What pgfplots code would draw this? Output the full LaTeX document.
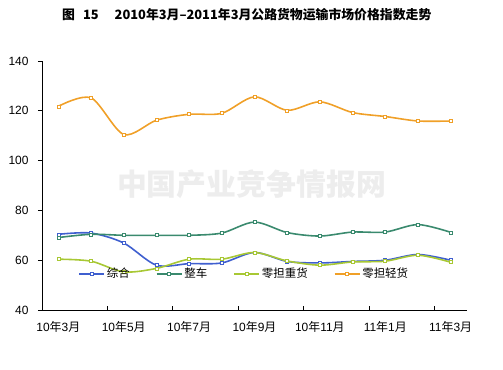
\documentclass[border=0pt]{standalone}
\usepackage{fontspec}
\setmainfont{Liberation Sans}
\newfontfamily\cjk{Noto Sans CJK SC}
\usepackage{pgfplots}
\pgfplotsset{compat=1.18}
\definecolor{cblue}{HTML}{3F5FCF}
\definecolor{cgreen}{HTML}{3A8A6E}
\definecolor{cyg}{HTML}{A8C834}
\definecolor{corange}{HTML}{F0A028}
\begin{document}
\begin{tikzpicture}
\path[use as bounding box] (0,0) rectangle (503bp,370bp);
\node[anchor=west,inner sep=0pt] at (62bp,355bp) {\cjk\bfseries\fontsize{12.9}{14}\selectfont 图\hspace{8bp}15\hspace{16bp}2010年3月–2011年3月公路货物运输市场价格指数走势};
\node[inner sep=0pt,text=black!7] at (251.5bp,186bp) {\cjk\bfseries\fontsize{30}{32}\selectfont 中国产业竞争情报网};
\begin{axis}[
  scale only axis,
  width=425bp, height=249bp,
  at={(42bp,60bp)}, anchor=south west,
  xmin=-0.5, xmax=12.5, ymin=40, ymax=140,
  axis x line*=bottom, axis y line*=left,
  axis line style={black, line width=0.8pt, -},
  ytick={40,60,80,100,120,140},
  xtick={1.5,3.5,5.5,7.5,9.5,11.5},
  xticklabels={},
  extra x ticks={0,2,4,6,8,10,12},
  extra x tick labels={10{\cjk 年}3{\cjk 月},10{\cjk 年}5{\cjk 月},10{\cjk 年}7{\cjk 月},10{\cjk 年}9{\cjk 月},10{\cjk 年}11{\cjk 月},11{\cjk 年}1{\cjk 月},11{\cjk 年}3{\cjk 月}},
  extra x tick style={major tick length=0pt, xticklabel style={yshift=-8bp}},
  xtick align=inside, ytick align=outside,
  major tick length=4bp,
  tick style={black, line width=0.8pt},
  /pgf/number format/assume math mode=true,
  ticklabel style={font=\fontsize{12}{14}\selectfont},
  yticklabel style={xshift=-6bp},
  every tick label/.append style={text=black},
  legend columns=4,
  legend style={draw=none, fill=none, at={(0.078,0.145)}, anchor=west,
    font=\cjk\fontsize{11.5}{13}\selectfont, column sep=0pt,
    /tikz/every even column/.append style={column sep=24bp}},
  legend image code/.code={\draw[mark repeat=2,mark phase=2] plot coordinates {(0bp,0bp) (12.5bp,0bp) (25bp,0bp)};},
  every axis plot/.append style={smooth, line width=1.6pt, mark=square*, mark size=1.5bp},
]
\addplot[cblue, mark options={draw=cblue, fill=white, line width=0.6pt, solid}] coordinates {(0,70.4) (1,70.9) (2,66.9) (3,58.0) (4,58.6) (5,58.9) (6,63.1) (7,59.5) (8,58.9) (9,59.5) (10,60.0) (11,62.3) (12,60.0)};
\addlegendentry{综合}
\addplot[cgreen, mark options={draw=cgreen, fill=white, line width=0.6pt, solid}] coordinates {(0,69.1) (1,70.4) (2,70.0) (3,70.0) (4,70.0) (5,70.9) (6,75.3) (7,71.1) (8,69.7) (9,71.3) (10,71.3) (11,74.3) (12,71.2)};
\addlegendentry{整车}
\addplot[cyg, mark options={draw=cyg, fill=white, line width=0.6pt, solid}] coordinates {(0,60.4) (1,59.6) (2,55.3) (3,56.7) (4,60.4) (5,60.4) (6,63.1) (7,59.7) (8,58.0) (9,59.3) (10,59.6) (11,62.0) (12,59.2)};
\addlegendentry{零担重货}
\addplot[corange, mark options={draw=corange, fill=white, line width=0.6pt, solid}] coordinates {(0,121.8) (1,125.2) (2,110.5) (3,116.2) (4,118.6) (5,119.0) (6,125.6) (7,120.2) (8,123.6) (9,119.3) (10,117.7) (11,115.9) (12,115.9)};
\addlegendentry{零担轻货}
\end{axis}
\end{tikzpicture}
\end{document}
